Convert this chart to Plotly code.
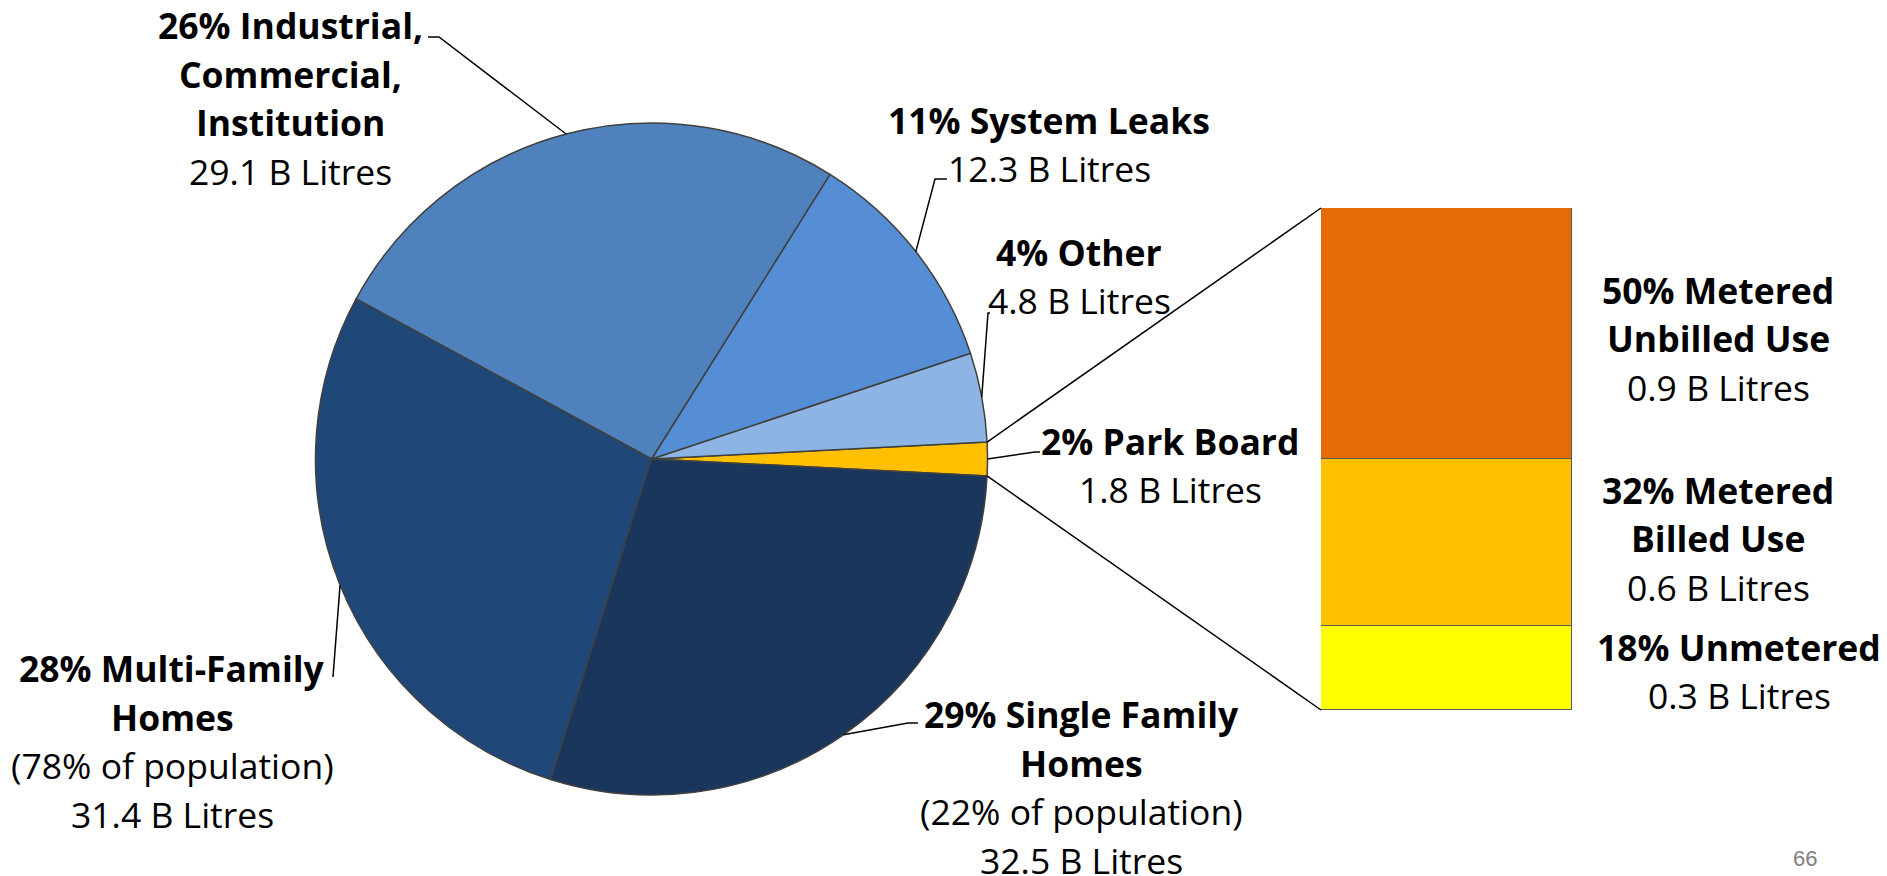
import math
import plotly.graph_objects as go

# page body has an 8px margin: the figure is drawn at (8, 8) in the window
OFF = 8
W, H = 1887 - OFF, 876 - OFF

# ---- data ----
pie_labels = ["Park Board", "Other", "System Leaks", "Industrial, Commercial, Institution",
              "Multi-Family Homes", "Single Family Homes"]
pie_values = [1.8, 4.8, 12.3, 29.1, 31.4, 32.5]
pie_colors = ["#FFC000", "#8EB4E3", "#558ED5", "#4F81BD", "#1F4878", "#1B365D"]

bar_labels = ["Unmetered", "Metered Billed Use", "Metered Unbilled Use"]
bar_values = [0.3, 0.6, 0.9]
bar_colors = ["#FFFF00", "#FFC000", "#E36C09"]

label_lines = {
    "Industrial, Commercial, Institution": [("26% Industrial,", True), ("Commercial,", True),
                                            ("Institution", True), ("29.1 B Litres", False)],
    "System Leaks": [("11% System Leaks", True), ("12.3 B Litres", False)],
    "Other": [("4% Other", True), ("4.8 B Litres", False)],
    "Park Board": [("2% Park Board", True), ("1.8 B Litres", False)],
    "Single Family Homes": [("29% Single Family", True), ("Homes", True),
                            ("(22% of population)", False), ("32.5 B Litres", False)],
    "Multi-Family Homes": [("28% Multi-Family", True), ("Homes", True),
                           ("(78% of population)", False), ("31.4 B Litres", False)],
    "Metered Unbilled Use": [("50% Metered", True), ("Unbilled Use", True), ("0.9 B Litres", False)],
    "Metered Billed Use": [("32% Metered", True), ("Billed Use", True), ("0.6 B Litres", False)],
    "Unmetered": [("18% Unmetered", True), ("0.3 B Litres", False)],
}

# ---- layout geometry (window pixels from top-left) ----
CX, CY, R = 651.5, 459.0, 336.0
BAR_L, BAR_R, BAR_T, BAR_B = 1321, 1572, 208, 710

label_pos = {  # centre of text block (px)
    "Industrial, Commercial, Institution": (290, 98),
    "System Leaks": (1049, 144),
    "Other": (1079, 276),
    "Park Board": (1170, 465),
    "Single Family Homes": (1081, 787),
    "Multi-Family Homes": (172, 741),
    "Metered Unbilled Use": (1718, 338),
    "Metered Billed Use": (1718, 538),
    "Unmetered": (1739, 671),
}
leader_pts = {  # elbow points after the pie-edge point (px)
    "Industrial, Commercial, Institution": [(439, 37), (428, 37)],
    "System Leaks": [(935, 179), (947, 179)],
    "Other": [(988, 313), (990, 313)],
    "Park Board": [(1035, 452), (1040, 452)],
    "Single Family Homes": [(908, 723), (918, 723)],
    "Multi-Family Homes": [(333, 677)],
}

FONT = "Open Sans"
FS = 35.5
LINE = 48.5


def px(x):
    return (x - OFF) / W


def py(y):
    return 1 - (y - OFF) / H


total = sum(pie_values)
span0 = pie_values[0] / total * 360
# counter-clockwise pies: 'rotation' is the edge between the first and second slice
rotation = 90 - span0 / 2

fig = go.Figure()
fig.add_trace(go.Pie(
    labels=pie_labels, values=pie_values, sort=False, direction="counterclockwise",
    rotation=rotation, textinfo="none", hoverinfo="label+value+percent",
    marker=dict(colors=pie_colors, line=dict(color="#404040", width=1.5)),
    domain=dict(x=[px(CX - R), px(CX + R)], y=[py(CY + R), py(CY - R)]),
    showlegend=False,
))

for lab, val, col in zip(bar_labels, bar_values, bar_colors):
    fig.add_trace(go.Bar(
        x=["Park Board"], y=[val], name=lab, width=1,
        marker=dict(color=col, line=dict(color="#595959", width=1.5)),
        showlegend=False,
    ))

shapes = []
annotations = []


def edge_point(math_deg):
    a = math.radians(math_deg)
    return CX + R * math.cos(a), CY - R * math.sin(a)


# slice angles (math convention, counter-clockwise from east)
start = 90 - rotation - span0
angles = {}
acc = start
for lab, v in zip(pie_labels, pie_values):
    span = v / total * 360
    angles[lab] = (acc, acc + span)
    acc += span

# leader lines
for lab, pts in leader_pts.items():
    a0, a1 = angles[lab]
    ex, ey = edge_point((a0 + a1) / 2)
    allp = [(ex, ey)] + pts
    path = "M " + " L ".join(f"{px(x):.5f},{py(y):.5f}" for x, y in allp)
    shapes.append(dict(type="path", xref="paper", yref="paper", path=path,
                       line=dict(color="black", width=1.5)))

# connector lines from park board slice to the bar
a0, a1 = angles["Park Board"]
tx, ty = edge_point(a1)
bx, by = edge_point(a0)
shapes.append(dict(type="line", xref="paper", yref="paper",
                   x0=px(tx), y0=py(ty), x1=px(BAR_L), y1=py(BAR_T),
                   line=dict(color="black", width=1.5)))
shapes.append(dict(type="line", xref="paper", yref="paper",
                   x0=px(bx), y0=py(by), x1=px(BAR_L), y1=py(BAR_B),
                   line=dict(color="black", width=1.5)))

# labels
for lab, lines in label_lines.items():
    cx, cy = label_pos[lab]
    n = len(lines)
    for i, (txt, bold) in enumerate(lines):
        yy = cy + (i - (n - 1) / 2) * LINE
        annotations.append(dict(
            x=px(cx), y=py(yy), xref="paper", yref="paper", showarrow=False,
            text=f"<b>{txt}</b>" if bold else txt, xanchor="center", yanchor="middle",
            borderpad=0, font=dict(family=FONT, size=FS, color="black"),
        ))

annotations.append(dict(x=px(1805), y=py(858), xref="paper", yref="paper", showarrow=False,
                        text="66", xanchor="center", yanchor="middle", borderpad=0,
                        font=dict(family="Liberation Sans, Arial", size=22, color="#7F7F7F")))

fig.update_layout(
    width=W, height=H, margin=dict(l=0, r=0, t=0, b=0),
    paper_bgcolor="white", plot_bgcolor="white",
    barmode="stack", bargap=0,
    xaxis=dict(domain=[px(BAR_L), px(BAR_R)], range=[-0.5, 0.5], visible=False, fixedrange=True),
    yaxis=dict(domain=[py(BAR_B), py(BAR_T)], range=[0, sum(bar_values)], visible=False, fixedrange=True),
    shapes=shapes, annotations=annotations,
)

fig.write_html("out.html")
